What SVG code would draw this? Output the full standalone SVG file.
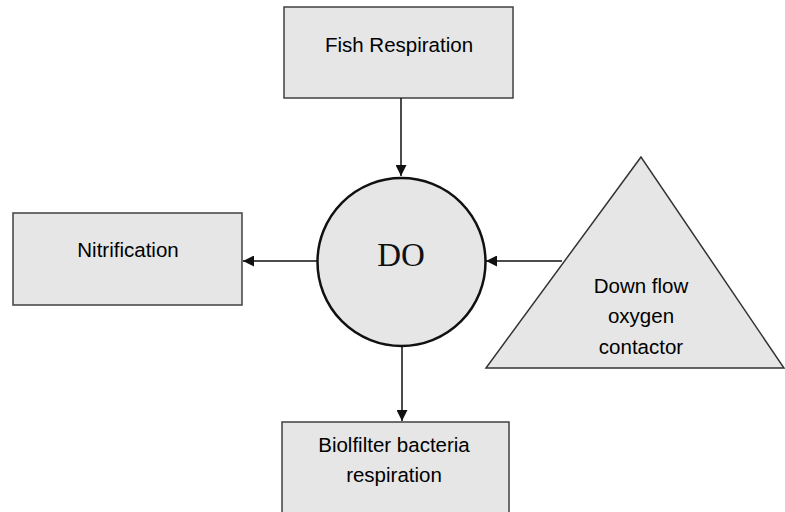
<svg xmlns="http://www.w3.org/2000/svg" width="785" height="512" viewBox="0 0 785 512">
<defs>
<style>
.box{fill:#e6e6e6;stroke:#404040;stroke-width:1.5}
.t{font-family:"Liberation Sans",Arial,sans-serif;font-size:20.5px;fill:#000;text-anchor:middle}
.c{stroke:#111;stroke-width:1.5;fill:none;marker-end:url(#ah)}
</style>
<marker id="ah" viewBox="0 0 10 10" refX="10" refY="5" markerWidth="12" markerHeight="11" markerUnits="userSpaceOnUse" orient="auto">
<path d="M0,0 L10,5 L0,10 Z" fill="#111"/>
</marker>
</defs>
<rect width="785" height="512" fill="#fff"/>
<g id="fish">
<rect class="box" x="284" y="7" width="229" height="91"/>
<text class="t" x="399" y="52">Fish Respiration</text>
</g>
<g id="nitrification">
<rect class="box" x="13" y="213" width="229" height="92"/>
<text class="t" x="128" y="257">Nitrification</text>
</g>
<g id="do">
<circle cx="401.5" cy="262" r="84" fill="#e6e6e6" stroke="#111" stroke-width="2.5"/>
<text x="401" y="266" font-family="'Liberation Serif','Times New Roman',serif" font-size="33" fill="#111" text-anchor="middle">DO</text>
</g>
<g id="contactor">
<polygon points="641,157 486,368 784,368" fill="#e6e6e6" stroke="#333" stroke-width="1.5"/>
<text class="t" x="641" y="293">Down flow</text>
<text class="t" x="641" y="323">oxygen</text>
<text class="t" x="641" y="354">contactor</text>
</g>
<g id="biofilter">
<rect class="box" x="282" y="422" width="227" height="100"/>
<text class="t" x="394" y="452">Biolfilter bacteria</text>
<text class="t" x="394" y="482">respiration</text>
</g>
<g id="connectors">
<line class="c" x1="401" y1="98" x2="401" y2="176"/>
<line class="c" x1="318" y1="261" x2="243" y2="261"/>
<line class="c" x1="562" y1="261" x2="486" y2="261"/>
<line class="c" x1="402" y1="347" x2="402" y2="421"/>
</g>
</svg>
